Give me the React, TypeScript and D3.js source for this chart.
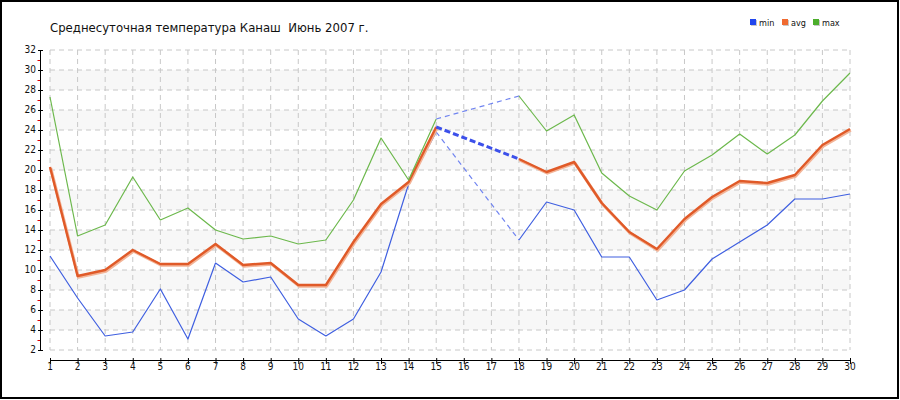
import React from "react";
import * as d3 from "d3";

const title = "Среднесуточная температура Канаш  Июнь 2007 г.";
const days = d3.range(1, 31);
const minT: (number | null)[] = [11.4, 7.2, 3.4, 3.8, 8.1, 3.1, 10.7, 8.8, 9.3, 5.1, 3.4, 5.1, 9.8, 18.6, 23.8, null, null, 13.0, 16.8, 16.0, 11.3, 11.3, 7.0, 8.0, 11.1, 12.8, 14.5, 17.1, 17.1, 17.6];
const avgT: (number | null)[] = [20.3, 9.4, 10.0, 12.0, 10.6, 10.6, 12.6, 10.5, 10.7, 8.5, 8.5, 12.8, 16.6, 18.8, 24.3, null, null, 21.1, 19.8, 20.8, 16.7, 13.8, 12.1, 15.1, 17.3, 18.9, 18.7, 19.5, 22.5, 24.1];
const maxT: (number | null)[] = [27.3, 13.4, 14.5, 19.3, 15.0, 16.2, 14.0, 13.1, 13.4, 12.6, 13.0, 17.0, 23.2, 19.0, 25.1, null, null, 27.4, 23.9, 25.5, 19.7, 17.4, 16.0, 19.9, 21.5, 23.6, 21.6, 23.5, 26.9, 29.7];
const yTicks = d3.range(2, 33, 2);
const yMinor = d3.range(3, 32, 2);
const shadedBands = [[28, 30], [24, 26], [20, 22], [16, 18], [12, 14], [8, 10], [4, 6]];
const seriesNames = ["min", "avg", "max"];

const W = 900, H = 400;
const x = d3.scaleLinear().domain([1, 30]).range([50, 850]);
const y = d3.scaleLinear().domain([2, 32]).range([350, 50]);

type Pt = { d: number; v: number | null };
const toPts = (arr: (number | null)[]): Pt[] => arr.map((v, i) => ({ d: days[i], v }));
const line = d3.line<Pt>().defined((p) => p.v != null).x((p) => x(p.d)).y((p) => y(p.v as number));

function gaps(arr: (number | null)[]) {
  const res: [Pt, Pt][] = [];
  let last: Pt | null = null;
  let inGap = false;
  arr.forEach((v, i) => {
    if (v == null) { inGap = true; return; }
    const p = { d: days[i], v };
    if (inGap && last) res.push([last, p]);
    inGap = false;
    last = p;
  });
  return res;
}

const font = "Tahoma, 'DejaVu Sans Condensed', 'DejaVu Sans', sans-serif";

export default function App() {
  const series = [
    { name: "min", data: minT, color: "#3f5fe0", width: 1.2, legend: "#2146ee", dash: { color: "#7084f0", w: 1.2, da: "5,4" } },
    { name: "avg", data: avgT, color: "#e05a28", width: 2.4, legend: "#f06a30", dash: { color: "#3c50ea", w: 3, da: "6,3" } },
    { name: "max", data: maxT, color: "#6cb84c", width: 1.2, legend: "#4cae2c", dash: { color: "#7084f0", w: 1.2, da: "5,4" } },
  ];
  return (
    <svg width={W} height={H} style={{ position: "absolute", left: 0, top: 0, background: "#fff" }} fontFamily={font}>
      <rect x={0} y={0} width={W} height={H} fill="#fff" />
      <rect x={1} y={1} width={W - 3} height={H - 3} fill="none" stroke="#000" strokeWidth={2} />
      <text x={50} y={32} fontSize={13} fill="#111" style={{ whiteSpace: "pre" }} xmlSpace="preserve">{title}</text>

      {/* shaded bands */}
      {shadedBands.map(([a, b], i) => (
        <rect key={i} x={x(1)} y={y(b)} width={x(30) - x(1)} height={y(a) - y(b)} fill="#f7f7f7" />
      ))}
      {/* grid */}
      {yTicks.map((t) => (
        <line key={"h" + t} x1={x(1)} x2={x(30)} y1={y(t)} y2={y(t)} stroke="#c8c8c8" strokeDasharray="5,4" />
      ))}
      {days.map((d) => (
        <line key={"v" + d} x1={x(d)} x2={x(d)} y1={y(32)} y2={y(2)} stroke="#c8c8c8" strokeDasharray="5,4" />
      ))}

      {/* y axis */}
      <line x1={40.5} x2={40.5} y1={y(32)} y2={y(2)} stroke="#000" />
      {yTicks.map((t) => (
        <g key={"yt" + t}>
          <line x1={38} x2={43} y1={y(t) + 0.5} y2={y(t) + 0.5} stroke="#000" />
          <text x={36} y={y(t) + 3} fontSize={10} textAnchor="end" fill="#111">{t}</text>
        </g>
      ))}
      {yMinor.map((t) => (
        <line key={"ym" + t} x1={37.5} x2={40} y1={y(t) + 0.5} y2={y(t) + 0.5} stroke="#e00000" />
      ))}

      {/* x axis */}
      <line x1={x(1)} x2={x(30)} y1={360.5} y2={360.5} stroke="#000" />
      {days.map((d) => (
        <g key={"xt" + d}>
          <line x1={x(d) + 0.5} x2={x(d) + 0.5} y1={358} y2={364} stroke="#000" />
          <text x={x(d)} y={370} fontSize={10} textAnchor="middle" fill="#111">{d}</text>
        </g>
      ))}

      {/* series */}
      {series.map((s) => (
        <g key={s.name}>
          {s.name === "avg" && (
            <path d={line(toPts(s.data)) || ""} fill="none" stroke="#f3b497" strokeWidth={3} transform="translate(0.8,1.2)" strokeLinejoin="round" />
          )}
          <path d={line(toPts(s.data)) || ""} fill="none" stroke={s.color} strokeWidth={s.width} strokeLinejoin="round" />
          {gaps(s.data).map(([a, b], i) => (
            <line key={i} x1={x(a.d)} y1={y(a.v as number)} x2={x(b.d)} y2={y(b.v as number)} stroke={s.dash.color} strokeWidth={s.dash.w} strokeDasharray={s.dash.da} />
          ))}
        </g>
      ))}

      {/* legend */}
      {series.map((s, i) => {
        const lx = [750, 782, 813][i];
        return (
          <g key={"lg" + s.name}>
            <rect x={lx + 1} y={20} width={6} height={6} fill="#c8c8c8" />
            <rect x={lx} y={19} width={6} height={6} fill={s.legend} />
            <text x={lx + 9} y={26} fontSize={9} fill="#111">{seriesNames[i]}</text>
          </g>
        );
      })}
    </svg>
  );
}
